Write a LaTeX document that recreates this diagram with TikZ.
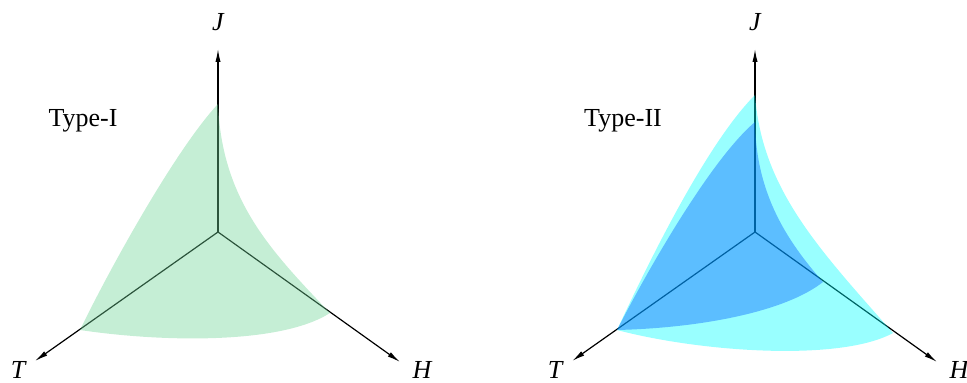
\documentclass[tikz,border=0pt]{standalone}
\usepackage{fontspec}
\setmainfont{Liberation Serif}
\usetikzlibrary{arrows.meta}
\definecolor{regiongreen}{RGB}{110,212,150}
\definecolor{outercyan}{RGB}{0,255,255}
\definecolor{innerblue}{RGB}{0,92,255}

\begin{document}
\begin{tikzpicture}[x=0.5pt, y=-0.5pt,
    axis/.style={line width=0.6pt, -{Latex[length=6.5pt,width=2.6pt]}},
    region/.style={draw=none, fill opacity=0.4},
    lbl/.style={font=\fontsize{13}{15}\selectfont\itshape, inner sep=0pt, anchor=base},
    typelbl/.style={font=\fontsize{13}{15}\selectfont, inner sep=0pt, anchor=base}]
    \useasboundingbox (0,0) rectangle (967,383);

    % Type-I
    \coordinate (o1) at (218,232);
    \coordinate (j1) at (218,49);
    \coordinate (t1) at (35,361);
    \coordinate (h1) at (400,362);
    \draw[axis] (o1) -- (j1);
    \draw[axis] (o1) -- (t1);
    \draw[axis] (o1) -- (h1);
    \fill[region, fill=regiongreen] (218,104) .. controls (175,150) and (108,272) .. (80,330)
        .. controls (160,342) and (280,345) .. (330,313)
        .. controls (270,250) and (222,200) .. cycle;
    \node[lbl] (jlab1) at (218,31) {J};
    \node[lbl] (tlab1) at (18,379) {T};
    \node[lbl] (hlab1) at (422,379) {H};
    \node[typelbl] (type1) at (83,127) {Type-I};

    % Type-II
    \coordinate (o2) at (755,232);
    \coordinate (j2) at (755,49);
    \coordinate (t2) at (572,361);
    \coordinate (h2) at (937,362);
    \draw[axis] (o2) -- (j2);
    \draw[axis] (o2) -- (t2);
    \draw[axis] (o2) -- (h2);
    \fill[region, fill=outercyan] (755,95) .. controls (705,145) and (645,270) .. (617,330)
        .. controls (700,352) and (840,362) .. (893,333)
        .. controls (820,250) and (762,190) .. cycle;
    \fill[region, fill=innerblue] (755,122) .. controls (710,160) and (645,275) .. (617,330)
        .. controls (700,328) and (785,312) .. (823,282)
        .. controls (788,242) and (756,195) .. cycle;
    \node[lbl] (jlab2) at (755,31) {J};
    \node[lbl] (tlab2) at (555,379) {T};
    \node[lbl] (hlab2) at (959,379) {H};
    \node[typelbl] (type2) at (623,127) {Type-II};
\end{tikzpicture}
\end{document}
